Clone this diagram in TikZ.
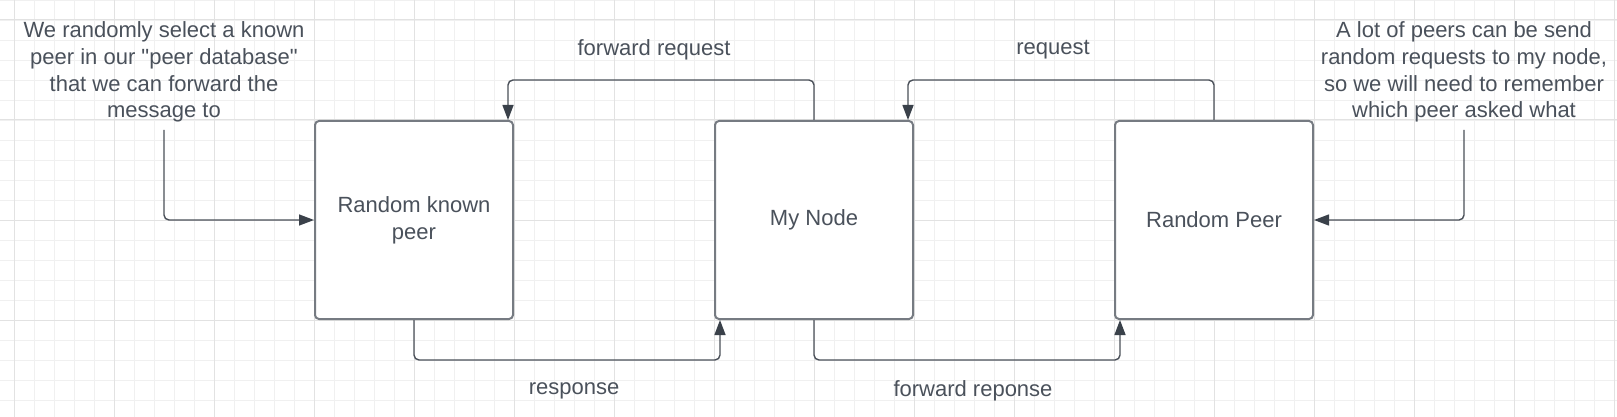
\documentclass[tikz,border=0pt]{standalone}
\usepackage{fontspec}
\setmainfont{Liberation Sans}[Ligatures=TeXOff]
\usetikzlibrary{arrows.meta}
\definecolor{gridminor}{HTML}{F0F0F0}
\definecolor{gridmajor}{HTML}{E2E2E2}
\definecolor{boxline}{HTML}{767B82}
\definecolor{connline}{HTML}{4A5059}
\definecolor{tipcol}{HTML}{3A414A}
\definecolor{txt}{HTML}{4A515B}
\tikzset{
  stepbox/.style={draw=boxline, line width=2pt, rounded corners=4pt, fill=white,
    minimum width=198pt, minimum height=198pt, inner sep=0pt, align=center,
    text=txt, font=\fontsize{22pt}{26.7pt}\selectfont},
  note/.style={align=center, text=txt, inner sep=0pt, font=\fontsize{22pt}{26.7pt}\selectfont},
  lbl/.style={text=txt, inner sep=0pt, font=\fontsize{22pt}{26.7pt}\selectfont},
  conn/.style={draw=connline, line width=1.4pt, rounded corners=5pt,
    -{Triangle[length=15pt,width=11pt,color=tipcol]}},
  minorline/.style={draw=gridminor, line width=0.9pt},
  majorline/.style={draw=gridmajor, line width=1pt},
}
\begin{document}
\begin{tikzpicture}[x=1pt,y=-1pt]
\useasboundingbox (0,0) rectangle (1617,417);
\fill[white] (0,0) rectangle (1617,417);
% grid
\foreach \i in {0,...,80} \draw[minorline] ({14+20*\i},0) -- ({14+20*\i},417);
\foreach \j in {0,...,20} \draw[minorline] (0,{20*\j}) -- (1617,{20*\j});
\foreach \i in {0,...,16} \draw[majorline] ({14+100*\i},0) -- ({14+100*\i},417);
\foreach \j in {0,...,3} \draw[majorline] (0,{20+100*\j}) -- (1617,{20+100*\j});
% boxes
\node[stepbox] (rk) at (414,220) {Random known\\peer};
\node[stepbox] (mn) at (814,220) {My Node};
\node[stepbox] (rp) at (1214,220) {Random Peer};
% notes
\node[note] (n1) at (164,72) {We randomly select a known\\peer in our "peer database"\\that we can forward the\\message to};
\node[note] (n2) at (1464,72) {A lot of peers can be send\\random requests to my node,\\so we will need to remember\\which peer asked what};
\coordinate (s1) at (164,130);
\coordinate (s2) at (1464,130);
% connectors
\draw[conn] (s1) |- (rk.west);
\draw[conn] (s2) |- (rp.east);
\draw[conn] (mn.north) -- ++(0,-40) -| ([xshift=-6pt]rk.north east);
\draw[conn] (rp.north) -- ++(0,-40) -| ([xshift=-6pt]mn.north east);
\draw[conn] (rk.south) -- ++(0,40) -| ([xshift=6pt]mn.south west);
\draw[conn] (mn.south) -- ++(0,40) -| ([xshift=6pt]rp.south west);
% labels
\node[lbl] (l1) at (654,50) {forward request};
\node[lbl] (l2) at (1053,50) {request};
\node[lbl] (l3) at (574,391) {response};
\node[lbl] (l4) at (973,391) {forward reponse};
\end{tikzpicture}
\end{document}
